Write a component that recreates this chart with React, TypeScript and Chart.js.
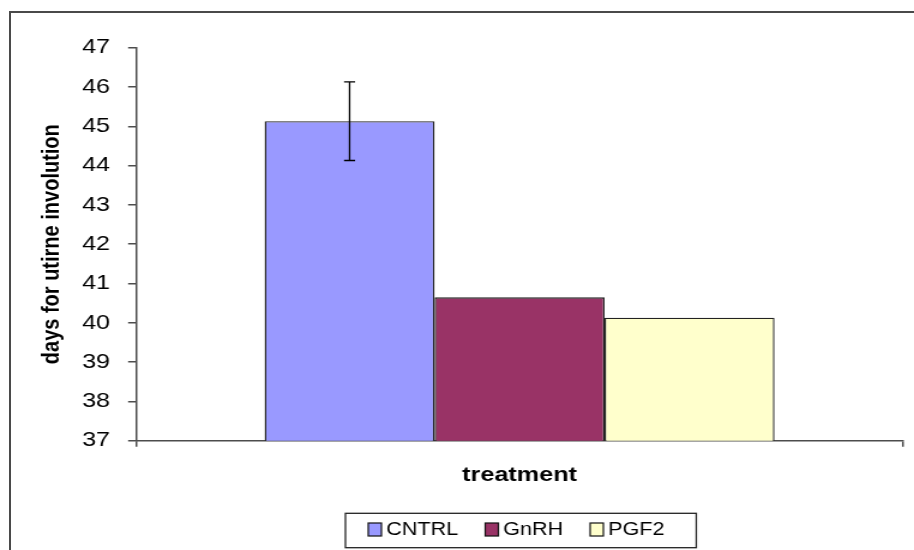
import React, { useEffect, useRef } from "react";
import { Chart, registerables } from "chart.js";

Chart.register(...registerables);

// ---- data ----
const categories: string[] = [""];
const seriesNames: string[] = ["CNTRL", "GnRH", "PGF2"];
const seriesValues: number[] = [45.13, 40.65, 40.13];
const seriesErrors: (number | null)[] = [1.0, null, null];
const seriesColors: string[] = ["#9999FF", "#993366", "#FFFFCC"];
const yMin = 37;
const yMax = 47;
const yStep = 1;
const yAxisTitle = "days for utirne involution";
const xAxisTitle = "treatment";

// ---- styling constants ----
const FONT = "'Liberation Sans', Arial, Helvetica, sans-serif";
const AXIS_COLOR = "#4d4d4d";
const CANVAS_W = 762; // internal width, stretched to 914 by CSS
const CANVAS_H = 550;

const errorBarPlugin = {
  id: "errorBars",
  afterDatasetsDraw(chart: any) {
    const ctx = chart.ctx;
    const y = chart.scales.y;
    chart.data.datasets.forEach((ds: any, i: number) => {
      const err = seriesErrors[i];
      if (err == null) return;
      const meta = chart.getDatasetMeta(i);
      meta.data.forEach((bar: any, j: number) => {
        const v = ds.data[j] as number;
        const x = bar.x;
        const top = y.getPixelForValue(v + err);
        const bot = y.getPixelForValue(v - err);
        const cap = 4.6;
        ctx.save();
        ctx.strokeStyle = "#000";
        ctx.lineWidth = 1.3;
        ctx.beginPath();
        ctx.moveTo(x, top);
        ctx.lineTo(x, bot);
        ctx.moveTo(x - cap, top);
        ctx.lineTo(x + cap, top);
        ctx.moveTo(x - cap, bot);
        ctx.lineTo(x + cap, bot);
        ctx.stroke();
        ctx.restore();
      });
    });
  },
};

const boxLegendPlugin = {
  id: "boxLegend",
  afterDraw(chart: any) {
    const ctx = chart.ctx;
    const boxL = 288;
    const boxT = 513.3;
    const boxW = 292.5;
    const boxH = 34.4;
    const sw = 11;
    const sh = 13;
    const gapText = 4;
    const gapItem = 22.5;
    const padL = 19;
    const cy = boxT + boxH / 2;
    ctx.save();
    ctx.strokeStyle = "#222";
    ctx.lineWidth = 1.3;
    ctx.strokeRect(boxL, boxT, boxW, boxH);
    ctx.font = `18px ${FONT}`;
    ctx.textBaseline = "middle";
    ctx.textAlign = "left";
    let x = boxL + padL;
    chart.data.datasets.forEach((ds: any) => {
      ctx.fillStyle = ds.backgroundColor;
      ctx.fillRect(x, cy - sh / 2 - 1, sw, sh);
      ctx.strokeStyle = "#111";
      ctx.lineWidth = 1.2;
      ctx.strokeRect(x, cy - sh / 2 - 1, sw, sh);
      x += sw + gapText;
      ctx.fillStyle = "#000";
      ctx.fillText(ds.label, x, cy);
      x += ctx.measureText(ds.label).width + gapItem;
    });
    ctx.restore();
  },
};

export default function App() {
  const ref = useRef<HTMLCanvasElement>(null);

  useEffect(() => {
    const canvas = ref.current;
    if (!canvas) return;
    const chart = new Chart(canvas, {
      type: "bar",
      data: {
        labels: categories,
        datasets: seriesNames.map((name, i) => ({
          label: name,
          data: [seriesValues[i]],
          backgroundColor: seriesColors[i],
          borderColor: "#222",
          borderWidth: 1.4,
          categoryPercentage: 0.665,
          barPercentage: 1,
        })),
      },
      options: {
        responsive: false,
        animation: false,
        devicePixelRatio: 1,
        layout: { padding: { left: 0, top: 47.7, right: 9.2, bottom: 49.3 } },
        plugins: {
          legend: { display: false },
          tooltip: { enabled: false },
          title: { display: false },
        },
        scales: {
          x: {
            type: "category",
            offset: true,
            grid: {
              display: true,
              drawOnChartArea: false,
              drawTicks: true,
              tickLength: 6,
              color: AXIS_COLOR,
              lineWidth: 1.5,
              offset: true,
            },
            border: { display: true, color: AXIS_COLOR, width: 1.5 },
            ticks: { display: true, font: { size: 10, family: FONT } },
            title: {
              display: true,
              text: xAxisTitle,
              color: "#000",
              font: { size: 21, weight: "bold", family: FONT },
              padding: { top: 0, bottom: 13 },
            },
            afterFit: (s: any) => {
              s.height = 60;
            },
          },
          y: {
            min: yMin,
            max: yMax,
            ticks: {
              stepSize: yStep,
              padding: 15,
              color: "#000",
              font: { size: 21, family: FONT },
            },
            grid: {
              display: true,
              drawOnChartArea: false,
              drawTicks: true,
              tickLength: 6.7,
              color: AXIS_COLOR,
              lineWidth: 1.5,
            },
            border: { display: true, color: AXIS_COLOR, width: 1.5 },
            title: {
              display: true,
              text: yAxisTitle,
              color: "#000",
              font: { size: 20, weight: "bold", family: FONT },
              padding: { top: 31, bottom: 0 },
            },
            afterFit: (s: any) => {
              s.width = 113.5;
            },
          },
        },
      } as any,
      plugins: [errorBarPlugin, boxLegendPlugin],
    });
    return () => chart.destroy();
  }, []);

  return (
    <div
      style={{
        position: "fixed",
        left: 0,
        top: 0,
        width: 914,
        height: 550,
        overflow: "hidden",
        background: "#fff",
      }}
    >
      <div
        style={{
          position: "absolute",
          left: 9,
          top: 11,
          width: 1000,
          height: 1000,
          borderLeft: "2px solid #4a4a4a",
          borderTop: "2px solid #4a4a4a",
        }}
      />
      <canvas
        ref={ref}
        width={CANVAS_W}
        height={CANVAS_H}
        style={{
          position: "absolute",
          left: 0,
          top: 0,
          width: "914px",
          height: "550px",
        }}
      />
    </div>
  );
}
